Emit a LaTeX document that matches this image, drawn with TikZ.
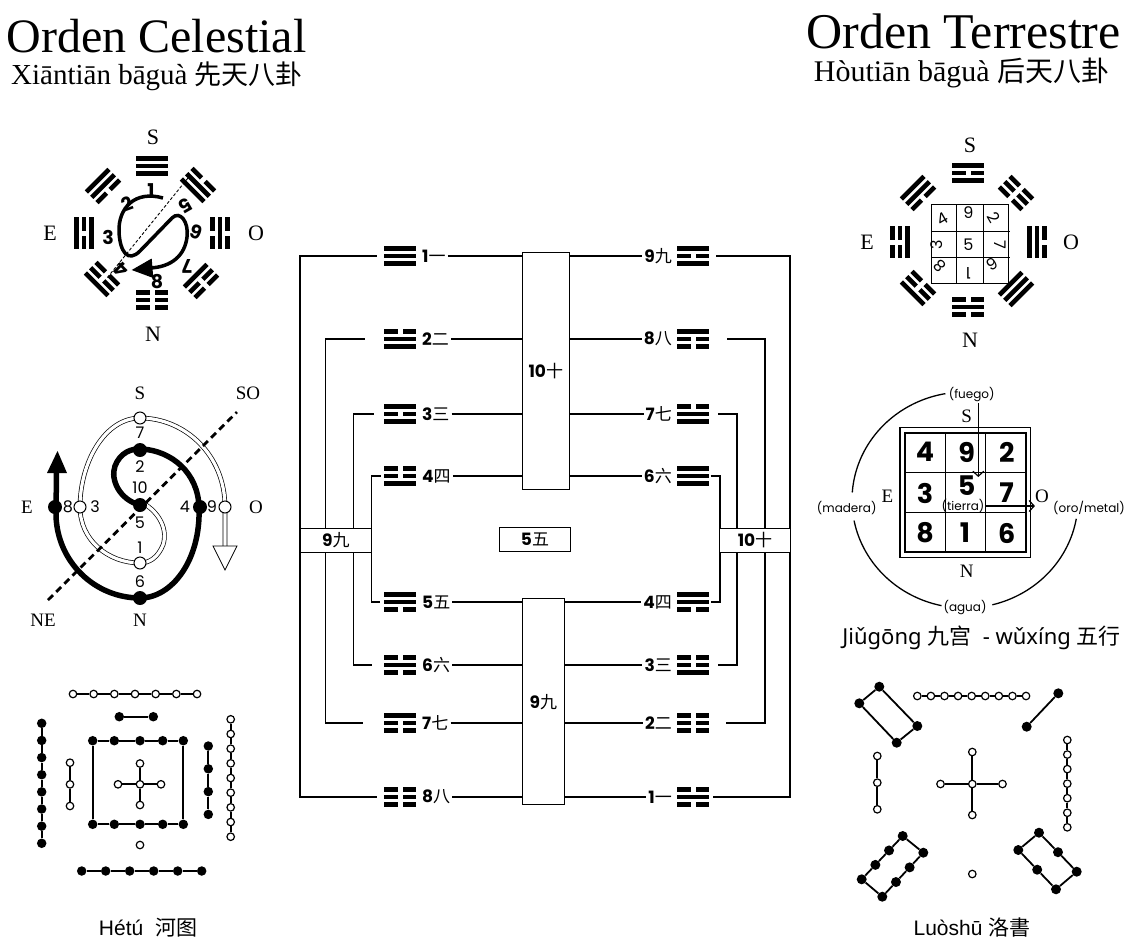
\documentclass[tikz,border=0pt]{standalone}
\usepackage{fontspec}
\setmainfont{Liberation Serif}
\newfontfamily\fut{Poppins}
\newfontfamily\nsf{Noto Sans}
\newfontfamily\cjk{Noto Sans CJK SC}
\newfontfamily\arl{Liberation Sans}
\usetikzlibrary{arrows.meta,calc}
\newcommand\fsz[1]{\fontsize{#1}{#1}\selectfont}
\newcommand\nl[2]{{\fut\bfseries #1}{\cjk #2}}
\def\trW{32}\def\trT{4.6}\def\trG{5}\def\trS{7.5}
\newcommand\tline[2]{\ifnum#2=1 \fill (-\trW/2,#1-\trT/2) rectangle (\trW/2,#1+\trT/2);\else \fill (-\trW/2,#1-\trT/2) rectangle (-\trG/2,#1+\trT/2); \fill (\trG/2,#1-\trT/2) rectangle (\trW/2,#1+\trT/2);\fi}
\newcommand\trig[6]{\begin{scope}[shift={(#1,#2)},rotate=#3]\tline{-\trS}{#4}\tline{0}{#5}\tline{\trS}{#6}\end{scope}}
\newcommand\chain[2]{\foreach \ci in {1,...,#2}{\pgfmathtruncatemacro\chj{\ci-1}\draw[hl] (#1\chj) -- (#1\ci);}}
\tikzset{
  ttl/.style={font=\fsz{48}, inner sep=0pt, text depth=0pt},
  sub/.style={font=\fsz{29}, inner sep=0pt},
  dir/.style={font=\fsz{22}, inner sep=0pt},
  dirs/.style={font=\fsz{19}, inner sep=0pt},
  bnum/.style={font=\fut\bfseries\fsz{19}, inner sep=0pt},
  snum/.style={font=\fut\fsz{16}, inner sep=0pt},
  qnum/.style={font=\fut\fsz{16}, inner sep=0pt},
  jnum/.style={font=\fut\bfseries\fsz{27}, inner sep=0pt},
  elem/.style={font=\fut\fsz{12}, inner sep=1pt},
  lab/.style={font=\fsz{17}, inner sep=2pt},
  box/.style={draw, line width=0.9pt, fill=white, inner sep=0pt, font=\fsz{17}},
  tri/.style={minimum width=32pt, minimum height=20pt, inner sep=0pt},
  conn/.style={line width=1.4pt},
  hl/.style={line width=1.8pt},
  fd/.style={circle, fill=black, inner sep=0pt, minimum size=9.5pt},
  od/.style={circle, draw=black, fill=white, line width=1.2pt, inner sep=0pt, minimum size=7.5pt},
  sfd/.style={circle, fill=black, inner sep=0pt, minimum size=14pt},
  sod/.style={circle, draw=black, fill=white, line width=1pt, inner sep=0pt, minimum size=12pt},
  arr/.style={line width=1.2pt, -{Straight Barb[length=5pt,width=11pt]}},
}
\begin{document}
\begin{tikzpicture}[x=1pt,y=-1pt]
\useasboundingbox (0,0) rectangle (1132,948);
% titles
\node[ttl, anchor=base] (t1) at (156.5,52) {Orden Celestial};
\node[sub, anchor=base] (t2) at (157,84) {Xiāntiān bāguà {\cjk\fsz{27}先天八卦}};
\node[ttl, font=\fsz{50}, anchor=base] (t3) at (963.5,48) {Orden Terrestre};
\node[sub, font=\fsz{30}, anchor=base] (t4) at (961.5,81) {Hòutiān bāguà {\cjk\fsz{28}后天八卦}};

% ---------- left bagua
\node[dir] (lS) at (153,137) {S};
\node[dir] (lN) at (153,334) {N};
\node[dir] (lE) at (50,233) {E};
\node[dir] (lO) at (256,233) {O};
\trig{152}{166}{0}{1}{1}{1}
\trig{152}{300}{180}{0}{0}{0}
\trig{84}{233}{90}{1}{0}{1}
\trig{220}{233}{-90}{0}{1}{0}
\trig{103}{186}{45}{1}{1}{0}
\trig{198}{185}{-45}{0}{1}{1}
\trig{102}{279}{135}{1}{0}{0}
\trig{201}{281}{-135}{0}{0}{1}
\draw[line width=0.9pt, dash pattern=on 3pt off 2pt] (188,178) -- (107,278);
\draw[line width=3.5pt] (163,198) .. controls (135,190) and (118,208) .. (119,232) .. controls (120,252) and (128,263) .. (140,251) -- (172,218) .. controls (180,210) and (189,222) .. (187,237) .. controls (185,255) and (172,267) .. (150,268);
\fill (131.7,270) -- (151.7,258.5) -- (153.3,278) -- cycle;
\foreach \dg/\x/\y/\r in {1/151/191/0, 2/127/204/20, 3/108/237/0, 4/121/270/135, 5/186/206/-150, 6/196/232/160, 7/187/266/180, 8/157/282/0}
  \node[bnum, rotate=\r] (bn\dg) at (\x,\y) {\dg};

% ---------- right bagua
\node[dir] (rS) at (970,145) {S};
\node[dir] (rN) at (970,340) {N};
\node[dir] (rE) at (867,242) {E};
\node[dir] (rO) at (1071,242) {O};
\trig{968}{173}{0}{1}{0}{1}
\trig{968}{307}{180}{0}{1}{0}
\trig{900}{242}{90}{0}{0}{1}
\trig{1037}{242}{-90}{0}{1}{1}
\trig{918}{193}{45}{1}{1}{0}
\trig{1016}{193}{-45}{0}{0}{0}
\trig{918}{288}{135}{1}{0}{0}
\trig{1016}{289}{-135}{1}{1}{1}
\draw[line width=0.9pt] (931,204) rectangle (1008,283);
\draw[line width=0.9pt] (956,204) -- (956,283) (983,204) -- (983,283) (931,231) -- (1010,231) (931,257) -- (1010,257);
\foreach \dg/\x/\y/\r in {4/942/219/30, 9/968.3/213/0, 2/994/218/-60, 3/937/245/90, 5/968.3/245/0, 7/1000/245/-90, 8/940/266/135, 1/968.3/273/180, 6/992/264/-150}
  \node[qnum, rotate=\r] (qn\dg) at (\x,\y) {\dg};

% ---------- spiral
\node[dirs] (sS) at (140,393) {S};
\node[dirs] (sSO) at (248,393) {SO};
\node[dirs] (sE) at (27,507) {E};
\node[dirs] (sO) at (256,507) {O};
\node[dirs] (sNE) at (43,620) {NE};
\node[dirs] (sN) at (140,620) {N};
\draw[line width=0.7pt, double=white, double distance=3.2pt] (143,503) .. controls (160,513) and (168,530) .. (163,545) .. controls (158,557) and (150,563) .. (140,563) .. controls (108,563) and (80,540) .. (80,507) .. controls (80,462) and (105,418) .. (140,418) .. controls (185,418) and (225,455) .. (225,507) -- (225,547);
\draw[line width=0.8pt, fill=white] (213,546) -- (237,546) -- (225,570) -- cycle;
\draw[line width=2.8pt, dash pattern=on 7pt off 4.5pt] (48,600) -- (237,412);
\draw[line width=5.5pt] (140,505) .. controls (120,500) and (110,480) .. (115,466) .. controls (120,453) and (131,448) .. (142,449) .. controls (172,451) and (198,473) .. (199,507) .. controls (201,560) and (172,598) .. (140,598) .. controls (95,598) and (57,562) .. (56,515) -- (56.5,470);
\fill (57.5,451) -- (47,473) -- (67,473) -- cycle;
\foreach \i/\x/\y in {a/140/450, b/55/507, c/200/507, d/140/598, e/140/505}
  \node[sfd] (sf\i) at (\x,\y) {};
\foreach \i/\x/\y in {a/140/418, b/80/507, c/225/507, d/140/563}
  \node[sod] (so\i) at (\x,\y) {};
\foreach \dg/\x/\y in {7/140/433, 2/140/467, 10/140/488, 5/140/523, 1/140/548, 6/140/582, 8/68/507, 3/95/507, 4/185/507, 9/212/507}
  \node[snum] (sn\dg) at (\x,\y) {\dg};

% ---------- center column
\foreach \rn/\y/\dg/\ch/\ta/\tb/\tc in {1/256/1/一/1/1/1, 2/339/2/二/0/1/1, 3/414/3/三/1/0/1, 4/476/4/四/0/0/1, 5/602/5/五/1/1/0, 6/665/6/六/0/1/0, 7/723/7/七/1/0/0, 8/797/8/八/0/0/0}{
  \node[tri] (tL\rn) at (400,\y) {};
  \trig{400}{\y}{0}{\ta}{\tb}{\tc}
  \node[lab, anchor=west] (nL\rn) at (420,\y) {\nl{\dg}{\ch}};
}
\foreach \rn/\y/\dg/\ch/\ta/\tb/\tc in {1/256/9/九/1/0/1, 2/339/8/八/1/0/0, 3/414/7/七/0/1/1, 4/476/6/六/1/1/1, 5/602/4/四/1/1/0, 6/665/3/三/0/0/1, 7/723/2/二/0/0/0, 8/797/1/一/0/1/0}{
  \node[tri] (tR\rn) at (693,\y) {};
  \trig{693}{\y}{0}{\ta}{\tb}{\tc}
  \node[lab, anchor=east] (nR\rn) at (674,\y) {\nl{\dg}{\ch}};
}
\node[box, minimum width=47pt, minimum height=237pt] (B10) at (545.8,370.8) {\nl{10}{十}};
\node[box, minimum width=42pt, minimum height=206pt] (B9) at (543.3,701.9) {\nl{9}{九}};
\foreach \rn in {1,...,4}{
  \draw[conn] (nL\rn.east) -- (nL\rn.east -| B10.west);
  \draw[conn] (B10.east |- nR\rn.west) -- (nR\rn.west);}
\foreach \rn in {5,...,8}{
  \draw[conn] (nL\rn.east) -- (nL\rn.east -| B9.west);
  \draw[conn] (B9.east |- nR\rn.west) -- (nR\rn.west);}
\coordinate (vL1) at (300,0); \coordinate (vL2) at (325.5,0);
\coordinate (vL3) at (353.5,0); \coordinate (vL4) at (371.5,0);
\coordinate (vR1) at (790,0); \coordinate (vR2) at (765,0);
\coordinate (vR3) at (737,0); \coordinate (vR4) at (720,0);
\draw[conn] ([xshift=-7pt]tL1.west) -- (tL1.west -| vL1) -- (tL8.west -| vL1) -- ([xshift=-7pt]tL8.west);
\draw[conn] ([xshift=-19pt]tL2.west) -- (tL2.west -| vL2) -- (tL7.west -| vL2) -- ([xshift=-21pt]tL7.west);
\draw[conn] ([xshift=-10pt]tL3.west) -- (tL3.west -| vL3) -- (tL6.west -| vL3) -- ([xshift=-12pt]tL6.west);
\draw[conn] ([xshift=-3pt]tL4.west) -- (tL4.west -| vL4) -- (tL5.west -| vL4) -- ([xshift=-4pt]tL5.west);
\draw[conn] ([xshift=7pt]tR1.east) -- (tR1.east -| vR1) -- (tR8.east -| vR1) -- ([xshift=4pt]tR8.east);
\draw[conn] ([xshift=18pt]tR2.east) -- (tR2.east -| vR2) -- (tR7.east -| vR2) -- ([xshift=17pt]tR7.east);
\draw[conn] ([xshift=9pt]tR3.east) -- (tR3.east -| vR3) -- (tR6.east -| vR3) -- ([xshift=9pt]tR6.east);
\draw[conn] ([xshift=1.5pt]tR4.east) -- (tR4.east -| vR4) -- (tR5.east -| vR4) -- ([xshift=1.5pt]tR5.east);
\node[box, minimum width=71.7pt, minimum height=24.4pt] (b9) at (335.8,540.5) {\nl{9}{九}};
\node[box, minimum width=71.4pt, minimum height=24.4pt] (b10) at (755,540.5) {\nl{10}{十}};
\node[box, minimum width=71.4pt, minimum height=24pt] (b5) at (535,539.3) {\nl{5}{五}};

% ---------- jiugong
\draw[line width=1.5pt] (900,427.7) rectangle (1030.7,557.3);
\draw[line width=1.5pt] (905,433) rectangle (1026,552);
\draw[line width=1.5pt] (945.3,433) -- (945.3,552) (985.7,433) -- (985.7,552) (905,472.7) -- (1026,472.7) (905,512.3) -- (1026,512.3);
\foreach \dg/\x/\y in {4/925/452, 9/966.7/452, 2/1006.7/452, 3/925/493, 5/966.7/486, 7/1006.7/493, 8/925/533, 1/965/533, 6/1006.7/533}
  \node[jnum] (jg\dg) at (\x,\y) {\dg};
\node[dirs] (jS) at (966.7,416.7) {S};
\node[dirs] (jE) at (887.3,496.7) {E};
\node[dirs] (jO) at (1042,496.7) {O};
\node[dirs] (jN) at (966.7,571.7) {N};
\node[elem] (jfu) at (971.7,395) {(fuego)};
\node[elem] (jma) at (846.7,507.7) {(madera)};
\node[elem] (jor) at (1089,507.7) {(oro/metal)};
\node[elem] (jag) at (965,607.7) {(agua)};
\node[elem] (jti) at (963,506) {(tierra)};
\coordinate (fa) at (978.3,477);
\draw[arr] ([xshift=6.6pt]jfu.south) -- (fa);
\draw[arr] (jti.east) -- (jti.east -| jO.west);
\draw[line width=1.3pt] plot[domain=100:176, samples=50, smooth] ({965+113*cos(\x)},{500-108*sin(\x)});
\draw[line width=1.3pt] plot[domain=191:258, samples=50, smooth] ({965+113*cos(\x)},{500-108*sin(\x)});
\draw[line width=1.3pt] plot[domain=284:350, samples=50, smooth] ({965+113*cos(\x)},{500-108*sin(\x)});
\node[font=\nsf\fsz{22}] (jcap) at (981.5,638) {Jiǔgōng {\cjk 九宫}\ \ - wǔxíng {\cjk 五行}};

% ---------- Hetu
\foreach \i in {0,...,6} \node[od] (hA\i) at ({73+\i*20.67},694) {};
\chain{hA}{6}
\node[fd] (hB0) at (119.3,716.7) {}; \node[fd] (hB1) at (153.3,716.7) {};
\chain{hB}{1}
\foreach \i in {0,...,7} \node[fd] (hC\i) at (41.7,{723.3+\i*17.14}) {};
\chain{hC}{7}
\foreach \i in {0,...,2} \node[od] (hD\i) at (70,{762.7+\i*21.65}) {};
\chain{hD}{2}
\foreach \x [count=\i from 0] in {92.7,114.3,140,162.7,183.3} {\node[fd] (hE\i) at (\x,740.7) {}; \node[fd] (hF\i) at (\x,824.3) {};}
\chain{hE}{4}
\chain{hF}{4}
\draw[hl] (hE0) -- (hF0); \draw[hl] (hE4) -- (hF4);
\node[od] (hG0) at (140,784.3) {};
\node[od] (hG1) at (140,763.5) {};
\node[od] (hG2) at (140,805) {};
\node[od] (hG3) at (118,784.3) {};
\node[od] (hG4) at (161,784.3) {};
\foreach \i in {1,...,4} \draw[hl] (hG0) -- (hG\i);
\foreach \i in {0,...,3} \node[fd] (hH\i) at (208.3,{746+\i*22.8}) {};
\chain{hH}{3}
\foreach \i in {0,...,8} \node[od] (hI\i) at (230.7,{719.3+\i*14.675}) {};
\chain{hI}{8}
\node[od] (hJ0) at (140,845) {};
\foreach \i in {0,...,5} \node[fd] (hK\i) at ({81.7+\i*24},871) {};
\chain{hK}{5}
\node[font=\arl\fsz{21}] (hcap) at (148,928) {Hétú\ \ {\cjk 河图}};

% ---------- Luoshu
\tikzset{fd/.append style={minimum size=10pt}}
\foreach \i in {0,...,8} \node[od] (lA\i) at ({917.3+\i*13.59},696) {};
\chain{lA}{8}
\node[fd] (lB0) at (879.3,686.7) {}; \node[fd] (lB1) at (917.3,726) {};
\node[fd] (lB2) at (896.7,742.7) {}; \node[fd] (lB3) at (859.3,703.3) {};
\draw[hl] (lB0) -- (lB1); \draw[hl] (lB1) -- (lB2); \draw[hl] (lB2) -- (lB3); \draw[hl] (lB3) -- (lB0);
\node[fd] (lC0) at (1058.3,693.3) {}; \node[fd] (lC1) at (1026.7,726.7) {};
\chain{lC}{1}
\foreach \i in {0,...,2} \node[od] (lD\i) at (877.3,{756+\i*26.65}) {};
\chain{lD}{2}
\node[od] (lE0) at (972.3,784) {};
\node[od] (lE1) at (972.3,752) {};
\node[od] (lE2) at (972.3,815) {};
\node[od] (lE3) at (940.5,784) {};
\node[od] (lE4) at (1002.5,784) {};
\foreach \i in {1,...,4} \draw[hl] (lE0) -- (lE\i);
\foreach \i in {0,...,6} \node[od] (lF\i) at (1067.3,{740+\i*14.55}) {};
\chain{lF}{6}
\coordinate (gA) at (902.7,836); \coordinate (gB) at (923.3,852.7);
\coordinate (gC) at (882.3,896.7); \coordinate (gD) at (861.7,879.3);
\foreach \t [count=\i from 0] in {0,0.3333,0.6667,1} \node[fd] (lG\i) at ($(gA)!\t!(gD)$) {};
\foreach \t [count=\i from 4] in {0,0.3333,0.6667,1} \node[fd] (lG\i) at ($(gB)!\t!(gC)$) {};
\chain{lG}{3}
\draw[hl] (lG4) -- (lG5); \draw[hl] (lG5) -- (lG6); \draw[hl] (lG6) -- (lG7);
\draw[hl] (lG0) -- (lG4); \draw[hl] (lG3) -- (lG7);
\node[od] (lH0) at (972.3,874) {};
\node[fd] (lI0) at (1039,832.7) {}; \node[fd] (lI1) at (1058,852.2) {}; \node[fd] (lI2) at (1076.7,871.7) {};
\node[fd] (lI3) at (1018.3,850) {}; \node[fd] (lI4) at (1037.2,869.7) {}; \node[fd] (lI5) at (1056,889.3) {};
\draw[hl] (lI0) -- (lI1); \draw[hl] (lI1) -- (lI2); \draw[hl] (lI3) -- (lI4); \draw[hl] (lI4) -- (lI5);
\draw[hl] (lI0) -- (lI3); \draw[hl] (lI2) -- (lI5);
\node[font=\arl\fsz{21}] (lcap) at (972,928) {Luòshū {\cjk 洛書}};
\end{tikzpicture}
\end{document}
